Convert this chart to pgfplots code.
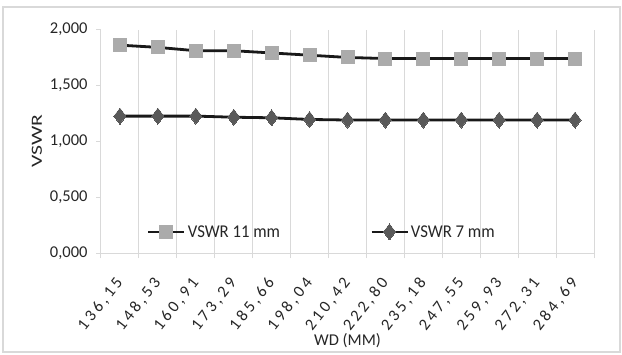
\documentclass[border=0pt]{standalone}
\usepackage{pgfplots}
\pgfplotsset{compat=1.18}
\usepackage{fontspec}
\setmainfont{Carlito}
\newfontfamily\legfont{Carlito}[FakeStretch=0.93]
\newfontfamily\ylabfont{Carlito}[FakeStretch=1.4]
\newfontfamily\tickfont{Carlito}[LetterSpace=20]
\definecolor{gridc}{HTML}{D9D9D9}
\definecolor{txt}{HTML}{262626}
\definecolor{sqc}{HTML}{ABABAB}
\definecolor{dmc}{HTML}{595959}
\begin{document}
\begin{tikzpicture}
\useasboundingbox (0pt,0pt) rectangle (622pt,354pt);
\draw[gridc, line width=1.5pt] (3pt,2pt) rectangle (620pt,347pt);
\begin{axis}[
  at={(101pt,101pt)}, anchor=south west,
  scale only axis, width=493pt, height=223.5pt,
  xmin=-0.5, xmax=12.5, ymin=0, ymax=2,
  axis lines*=left,
  axis line style={gridc, line width=1pt},
  xtick={-0.5,0.5,...,12.5},
  x tick label as interval,
  xticklabels={{136,15},{148,53},{160,91},{173,29},{185,66},{198,04},{210,42},{222,80},{235,18},{247,55},{259,93},{272,31},{284,69}},
  xmajorgrids, major grid style={gridc, line width=1pt},
  major tick length=5pt,
  every tick/.style={gridc, line width=1pt},
  ytick={0,0.5,1,1.5,2},
  tick align=outside,
  yticklabel style={font=\fontsize{16.5}{16.5}\selectfont\color{txt}, xshift=-5pt},
  xticklabel style={font=\tickfont\fontsize{16.5}{16.5}\selectfont\color{txt}, xshift=2pt, yshift=-19pt, rotate=52, anchor=east},
  /pgf/number format/.cd, assume math mode=true, fixed, fixed zerofill, precision=3, use comma, 1000 sep={},
  /pgfplots/.cd,
  xlabel={WD (MM)},
  xlabel style={font=\fontsize{16.5}{16.5}\selectfont\color{txt}, at={(axis description cs:0.50,-0.38)}, anchor=center, yshift=-3pt},
  ylabel={\ylabfont VSWR},
  ylabel style={font=\fontsize{15.5}{15.5}\selectfont\color{txt}, at={(axis description cs:-0.13,0.501)}, anchor=center},
  clip=false,
  every axis plot/.append style={legend image code/.code={\draw[mark repeat=2,mark phase=2,#1] plot coordinates {(0pt,0pt) (18pt,0pt) (36pt,0pt)};}},
  legend columns=2,
  legend style={draw=none, fill=none, at={(axis description cs:0.448,0.094)}, anchor=center,
    font=\legfont\fontsize{18}{18}\selectfont\color{txt},
    nodes={inner xsep=2pt},
    /tikz/every even column/.append style={column sep=88pt}},
]
\addplot[color=black!90, line width=2.8pt, mark=square*, mark size=6.5pt, mark options={sqc, draw=sqc, line width=0pt}]
coordinates {(0,1.86) (1,1.84) (2,1.81) (3,1.81) (4,1.79) (5,1.77) (6,1.75) (7,1.74) (8,1.74) (9,1.74) (10,1.74) (11,1.74) (12,1.74)};
\addlegendentry{VSWR 11 mm}
\addplot[color=black!90, line width=2.8pt, mark=diamond*, mark size=8pt, mark options={dmc, draw=dmc, line width=0pt}]
coordinates {(0,1.225) (1,1.225) (2,1.225) (3,1.215) (4,1.21) (5,1.195) (6,1.19) (7,1.19) (8,1.19) (9,1.19) (10,1.19) (11,1.19) (12,1.19)};
\addlegendentry{VSWR 7 mm}
\end{axis}
\end{tikzpicture}
\end{document}
